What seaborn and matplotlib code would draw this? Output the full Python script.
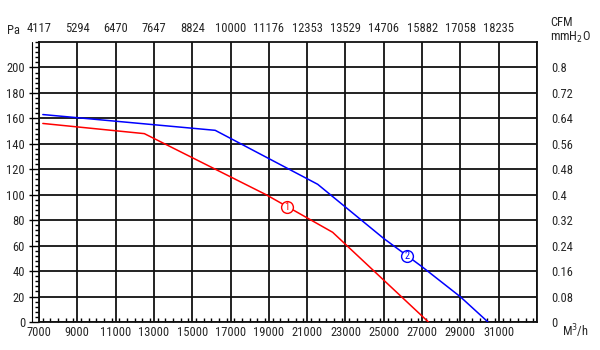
import matplotlib
matplotlib.use("Agg")
import matplotlib.pyplot as plt
import seaborn as sns
import pandas as pd
import numpy as np
from matplotlib.ticker import MultipleLocator
from matplotlib import font_manager

# ---- data ----
flow_ticks = [7000, 9000, 11000, 13000, 15000, 17000, 19000, 21000, 23000, 25000, 27000, 29000, 31000]
cfm_labels = ["4117", "5294", "6470", "7647", "8824", "10000", "11176", "12353", "13529", "14706", "15882", "17058", "18235"]
pa_ticks = [0, 20, 40, 60, 80, 100, 120, 140, 160, 180, 200]
mmh2o_labels = ["0", "0.08", "0.16", "0.24", "0.32", "0.4", "0.48", "0.56", "0.64", "0.72", "0.8"]

curve1_flow = [7200, 12500, 18860, 22330, 27330]
curve1_pa = [156, 148, 100, 70.5, 0]
curve2_flow = [7200, 16200, 19000, 21550, 25000, 27000, 29000, 30440]
curve2_pa = [163, 150.6, 128.4, 108.2, 65.6, 43.4, 19.8, 0]

label1 = ("1", 19930, 90.4)
label2 = ("2", 26234, 51.8)

df = pd.concat([
    pd.DataFrame({"flow": curve1_flow, "pa": curve1_pa, "curve": "1"}),
    pd.DataFrame({"flow": curve2_flow, "pa": curve2_pa, "curve": "2"}),
])

sns.set_style("white")
names = {f.name for f in font_manager.fontManager.ttflist}
cond = [n for n in ["Liberation Sans Narrow", "Roboto Condensed", "Open Sans Condensed",
                    "DejaVu Sans Condensed", "Noto Sans Condensed"] if n in names]
plt.rcParams["font.family"] = cond + ["DejaVu Sans"]
plt.rcParams["font.stretch"] = "condensed"
FS = 9

fig = plt.figure(figsize=(6, 3.5), dpi=100)
ax = fig.add_axes([39 / 600, 28 / 350, 498 / 600, 280 / 350])

sns.lineplot(data=df, x="flow", y="pa", hue="curve", palette={"1": "#ff0000", "2": "#0000ff"},
             ax=ax, legend=False, linewidth=1.1, sort=False, zorder=3)

ax.set_xlim(7000, 33000)
ax.set_ylim(0, 220)
ax.set_xlabel("")
ax.set_ylabel("")

ax.set_xticks(flow_ticks + [33000])
ax.set_xticklabels([str(v) for v in flow_ticks] + [""], fontsize=FS)
ax.set_yticks(pa_ticks)
ax.set_yticklabels([str(v) for v in pa_ticks], fontsize=FS)
ax.xaxis.set_minor_locator(MultipleLocator(400))
ax.yaxis.set_minor_locator(MultipleLocator(4))
ax.grid(True, which="major", color="#111111", linewidth=1.3)
ax.set_axisbelow(True)
ax.tick_params(axis="x", which="major", direction="in", length=0, pad=3)
ax.tick_params(axis="x", which="minor", direction="in", length=3, width=1, color="black")
ax.tick_params(axis="y", which="major", direction="out", length=7, width=1, color="black", pad=3)
ax.tick_params(axis="y", which="minor", direction="out", length=3, width=1, color="black")
for s in ax.spines.values():
    s.set_color("#111111")
    s.set_linewidth(1.3)

# thin outer line on the left
ax.plot([-7 / 498, -7 / 498], [0, 1], transform=ax.transAxes, color="black", lw=0.8, clip_on=False)

# right axis (mmH2O)
axr = ax.twinx()
axr.set_ylim(ax.get_ylim())
axr.set_yticks(pa_ticks)
axr.set_yticklabels(mmh2o_labels, fontsize=FS)
axr.tick_params(axis="y", length=0, pad=10)
axr.grid(False)
for s in axr.spines.values():
    s.set_visible(False)

# top axis (CFM)
axt = ax.twiny()
axt.set_xlim(ax.get_xlim())
axt.set_xticks(flow_ticks)
axt.set_xticklabels(cfm_labels, fontsize=FS)
axt.tick_params(axis="x", length=0, pad=5)
axt.grid(False)
for s in axt.spines.values():
    s.set_visible(False)

# curve labels
for (txt, xv, yv), col in [(label1, "#ff0000"), (label2, "#0000ff")]:
    ax.plot([xv], [yv], marker="o", markersize=8.5, markerfacecolor="white",
            markeredgecolor=col, markeredgewidth=1.0, zorder=4)
    ax.text(xv, yv, txt, color=col, fontsize=7.5, ha="center", va="center", zorder=5)

fig.text(7 / 600, 1 - 31 / 350, "Pa", fontsize=FS, ha="left", va="center")
fig.text(550 / 600, 1 - 23 / 350, "CFM", fontsize=FS, ha="left", va="center")
fig.text(550 / 600, 1 - 37 / 350, "mmH$_2$O", fontsize=FS, ha="left", va="center")
fig.text(562 / 600, 1 - 331 / 350, "M$^3$/h", fontsize=FS, ha="left", va="center")

fig.savefig("out.png", dpi=100, facecolor="white")
